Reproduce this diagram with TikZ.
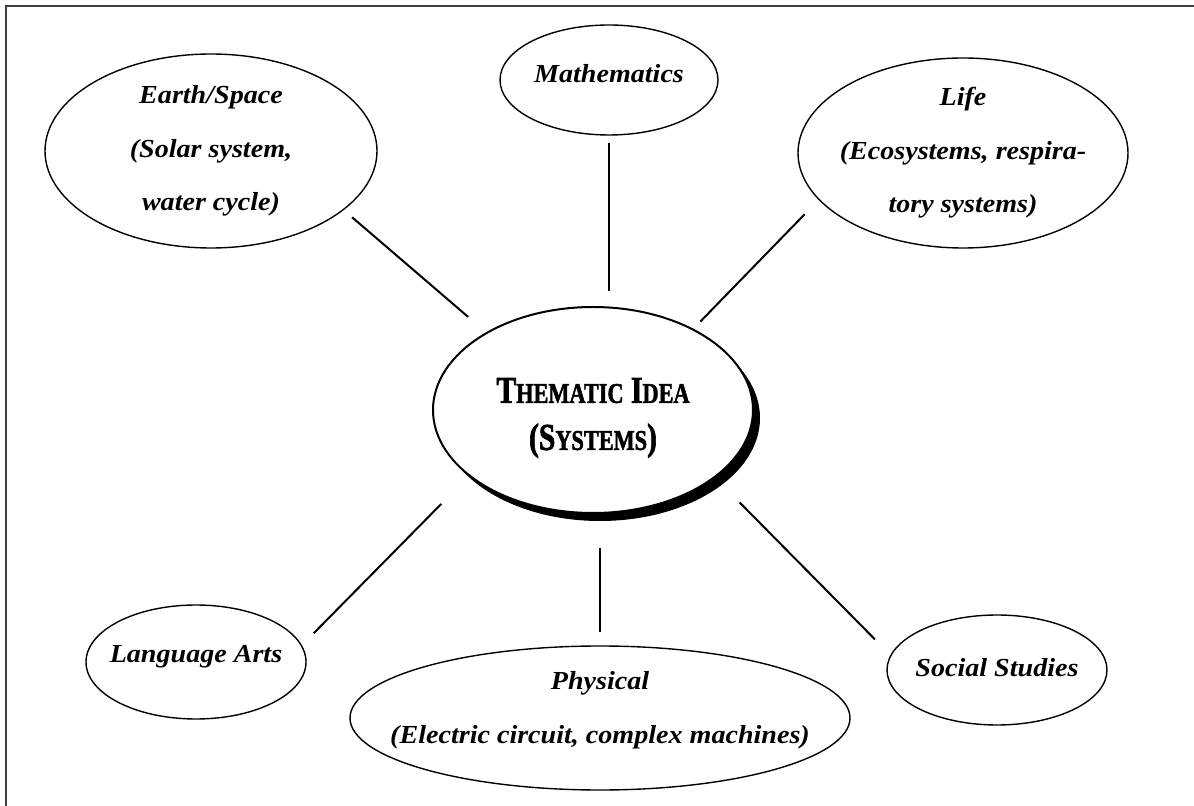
\documentclass[tikz,border=0pt]{standalone}
\usepackage{fontspec}
\setmainfont{Liberation Serif}
\newfontfamily\topicfont[FakeStretch=1.08]{Liberation Serif}
\newfontfamily\hubfont[FakeStretch=0.78,FakeBold=1.6]{Liberation Serif Bold}
\usetikzlibrary{shapes.geometric,shadows}
\newcommand\hubcaps[2]{{\fontsize{19}{19}\selectfont#1}{\fontsize{14.3}{14.3}\selectfont#2}}

\begin{document}
\begin{tikzpicture}[x=0.5pt,y=-0.5pt]
\tikzset{bubble/.style = {shape=ellipse,draw,line width=0.7pt,inner sep=0pt}}
\tikzset{topic/.style = {align=center,inner sep=0pt,font=\topicfont\bfseries\itshape\fontsize{13}{26.8}\selectfont}}
\tikzset{spoke/.style = {line width=1pt}}
\tikzset{frame/.style = {line width=0.8pt,black!75}}

\useasboundingbox (0,0) rectangle (1194,806);
\draw[frame] (6,806) -- (6,6) -- (1194,6);

\node[bubble, minimum width=166pt, minimum height=97pt] (earth) at (211,151) {};
\node[bubble, minimum width=109pt, minimum height=55pt] (math) at (609,80) {};
\node[bubble, minimum width=165pt, minimum height=95pt] (life) at (963,153) {};
\node[bubble, minimum width=110pt, minimum height=57pt] (lang) at (196,662) {};
\node[bubble, minimum width=250pt, minimum height=72pt] (phys) at (600,718) {};
\node[bubble, minimum width=110pt, minimum height=55pt] (social) at (997,670) {};
\node[bubble, fill=white, line width=1pt, minimum width=160pt, minimum height=103pt,
      general shadow={fill=black, shadow xshift=3.5pt, shadow yshift=-4pt}] (hub) at (593,410) {};

\node[topic] (earth-t) at (earth) {Earth/Space\\(Solar system,\\water cycle)};
\node[topic, anchor=base, yshift=-1.5pt] (math-t) at (math) {Mathematics};
\node[topic] (life-t) at (life) {Life\\(Ecosystems, respira-\\tory systems)};
\node[topic, anchor=base] (lang-t) at (lang) {Language Arts};
\node[topic, yshift=4pt] (phys-t) at (phys) {Physical\\(Electric circuit, complex machines)};
\node[topic, anchor=base, yshift=-3.3pt] (social-t) at (social) {Social Studies};
\node[align=center, inner sep=0pt, yshift=-4pt, font=\hubfont\fontsize{19}{23.5}\selectfont] (hub-t) at (hub)
  {\hubcaps{T}{HEMATIC} \hubcaps{I}{DEA}\\(\hubcaps{S}{YSTEMS})};

\draw[spoke, shorten <=5.5pt, shorten >=11.75pt] (earth.-24.6) -- (hub.144.4);
\draw[spoke, shorten <=3.5pt, shorten >=7.5pt] (math.south) -- (math.south |- hub.north);
\draw[spoke, shorten <=10pt, shorten >=5pt] (life.-162) -- (hub.39);
\draw[spoke, shorten <=19.5pt, shorten >=8.5pt] (hub.-152) -- (lang.9.7);
\draw[spoke, shorten <=17pt, shorten >=6.5pt] (phys.north |- hub.south) -- (phys.north);
\draw[spoke, shorten <=17.4pt, shorten >=11pt] (hub.-29.8) -- (social.172.8);
\end{tikzpicture}
\end{document}
